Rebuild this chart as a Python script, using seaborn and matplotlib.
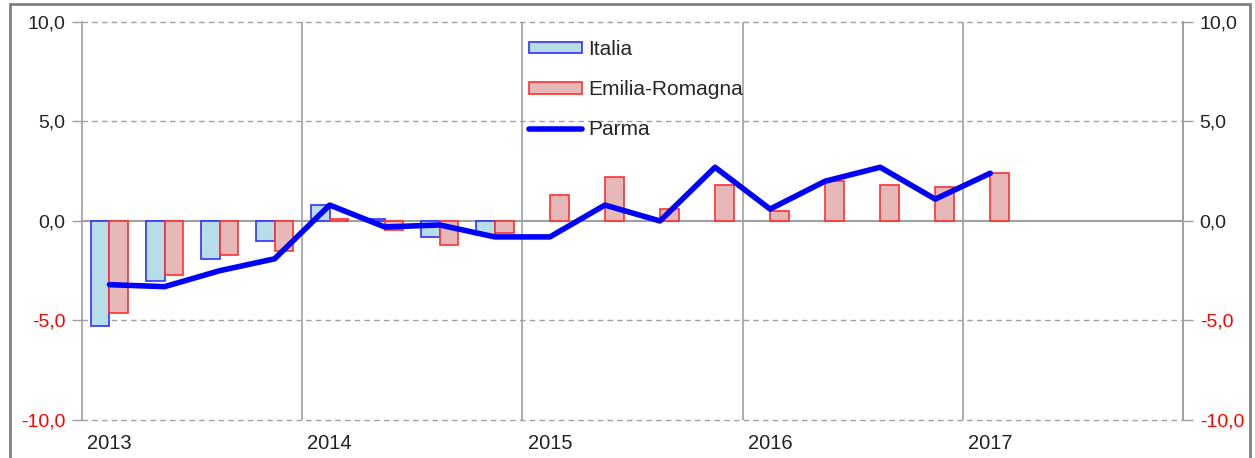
import matplotlib
matplotlib.use("Agg")
import matplotlib.pyplot as plt
import matplotlib.patches as mpatches
from matplotlib.lines import Line2D
import numpy as np
import pandas as pd
import seaborn as sns

# dati trimestrali (variazioni %), dal 2013 T1 al 2017 T1
years = ["2013", "2014", "2015", "2016", "2017"]
italia = [-5.3, -3.0, -1.9, -1.0, 0.8, 0.1, -0.8, -0.7,
          np.nan, np.nan, np.nan, np.nan, np.nan, np.nan, np.nan, np.nan, np.nan]
emilia = [-4.6, -2.7, -1.7, -1.5, 0.1, -0.45, -1.2, -0.6,
          1.3, 2.2, 0.6, 1.8, 0.5, 2.0, 1.8, 1.7, 2.4]
parma = [-3.2, -3.3, -2.5, -1.9, 0.8, -0.3, -0.2, -0.8,
         -0.8, 0.8, 0.0, 2.7, 0.6, 2.0, 2.7, 1.1, 2.4]
yticks = [-10, -5, 0, 5, 10]
ytick_labels = ["-10,0", "-5,0", "0,0", "5,0", "10,0"]

FILL = {"Italia": "#B7DEE8", "Emilia-Romagna": "#E6B9B8"}
EDGE = {"Italia": "#3030FF", "Emilia-Romagna": "#FF3030"}
LINE = "#0000FF"
GRID = "#A0A0A0"

q = np.arange(len(emilia))
df = pd.concat([
    pd.DataFrame({"q": q, "valore": italia, "area": "Italia"}),
    pd.DataFrame({"q": q, "valore": emilia, "area": "Emilia-Romagna"}),
]).dropna()
df_parma = pd.DataFrame({"q": q, "valore": parma})

sns.set_theme(style="white")
plt.rcParams["font.family"] = ["Liberation Sans", "DejaVu Sans"]

fig = plt.figure(figsize=(12.55, 4.58), dpi=100)
ax = fig.add_axes([0.0653, 0.083, 0.8773, 0.869])

sns.barplot(data=df, x="q", y="valore", hue="area",
            hue_order=["Italia", "Emilia-Romagna"], palette=FILL,
            width=0.68, linewidth=1.2, saturation=1, legend=False, ax=ax)
for cont, name in zip(ax.containers, ["Italia", "Emilia-Romagna"]):
    for bar in cont:
        bar.set_edgecolor(EDGE[name])
        bar.set_zorder(2)

sns.lineplot(data=df_parma, x="q", y="valore", color=LINE, lw=4,
             sort=False, estimator=None, ax=ax, zorder=3)

ax.set_xlim(-0.5, 19.5)
ax.set_ylim(-10, 10)

# griglia
for y in [-10, -5, 5, 10]:
    ax.axhline(y, color=GRID, lw=1, ls=(0, (4, 3)), zorder=0, clip_on=False)
ax.axhline(0, color=GRID, lw=1.5, zorder=1)
for x in [3.5, 7.5, 11.5, 15.5]:
    ax.axvline(x, color=GRID, lw=1.2, zorder=0)

for s in ["top", "bottom"]:
    ax.spines[s].set_visible(False)
for s in ["left", "right"]:
    ax.spines[s].set_color(GRID)
    ax.spines[s].set_linewidth(1.2)

ax.set_xticks([0, 4, 8, 12, 16])
ax.set_xticklabels(years)
ax.set_yticks(yticks)
ax.set_yticklabels(ytick_labels)
ax.set_xlabel("")
ax.set_ylabel("")
ax.tick_params(axis="x", length=0, pad=10, labelsize=14.5, labelcolor="#222222")
ax.tick_params(axis="y", length=7, width=1, color=GRID, pad=5,
               labelsize=14)

ax2 = ax.twinx()
ax2.set_ylim(-10, 10)
ax2.set_yticks(yticks)
ax2.set_yticklabels(ytick_labels)
ax2.tick_params(axis="y", length=7, width=1, color=GRID, pad=5, labelsize=14)
for s in ["top", "bottom", "left"]:
    ax2.spines[s].set_visible(False)
ax2.spines["right"].set_color(GRID)
ax2.spines["right"].set_linewidth(1.2)

for a in (ax, ax2):
    for lab, v in zip(a.get_yticklabels(), yticks):
        lab.set_color("#FF0000" if v < 0 else "#222222")

handles = [
    mpatches.Patch(facecolor=FILL["Italia"], edgecolor=EDGE["Italia"], lw=1.2),
    mpatches.Patch(facecolor=FILL["Emilia-Romagna"], edgecolor=EDGE["Emilia-Romagna"], lw=1.2),
    Line2D([0], [0], color=LINE, lw=4, ls="-", solid_capstyle="round"),
]
ax.legend(handles, ["Italia", "Emilia-Romagna", "Parma"],
          loc="upper left", bbox_to_anchor=(0.4215, 0.913),
          bbox_transform=fig.transFigure, frameon=False, fontsize=15,
          handlelength=2.55, handleheight=0.5, handletextpad=0.3,
          labelspacing=1.02, borderpad=0, borderaxespad=0)

# cornice esterna
fig.patches.append(mpatches.Rectangle((0.008, -0.05), 0.988, 1.041,
                                      transform=fig.transFigure, fill=False,
                                      edgecolor="#808080", lw=2))

fig.savefig("out.png", dpi=100)
